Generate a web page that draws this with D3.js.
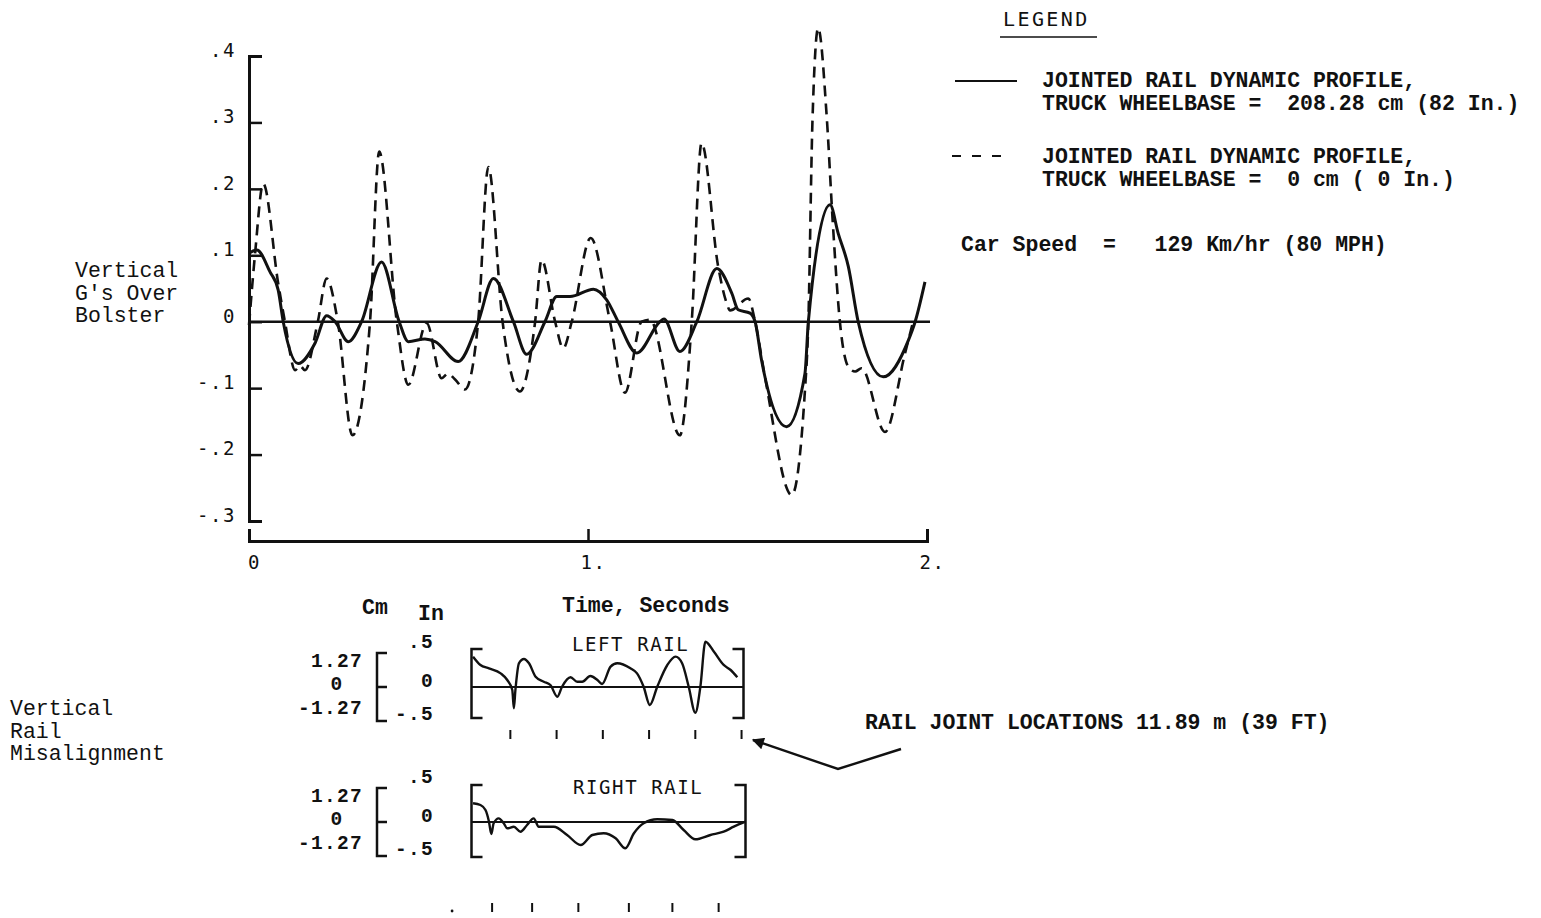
<!DOCTYPE html>
<html>
<head>
<meta charset="utf-8">
<script src="https://cdn.jsdelivr.net/npm/d3@7"></script>
<style>
  body { margin: 0; background: #fff; }
  svg { display: block; }
  .mono { font-family: "Liberation Mono", "Courier New", monospace; font-size: 21.5px; fill: #111; white-space: pre; }
  .mono-b { font-weight: bold; }
  .mono-s { font-size: 19.5px; letter-spacing: 1.3px; }
  .letter { font-family: "DejaVu Sans Mono", monospace; font-size: 19px; fill: #111; letter-spacing: 1.6px; white-space: pre; }
  .letter-l { font-size: 20px; letter-spacing: 2.4px; }
</style>
</head>
<body>
<svg id="chart" width="1541" height="918"></svg>
<script>
// Vertical acceleration over the bolster, 208.28 cm truck wheelbase (time s, g)
const timeSolid = [0, 0.023, 0.062, 0.086, 0.101, 0.145, 0.195, 0.229, 0.254, 0.293, 0.332, 0.391, 0.443, 0.470, 0.519, 0.549, 0.617, 0.676, 0.721, 0.780, 0.819, 0.873, 0.908, 0.947, 1.016, 1.055, 1.089, 1.144, 1.212, 1.224, 1.271, 1.321, 1.380, 1.424, 1.443, 1.478, 1.493, 1.512, 1.586, 1.640, 1.650, 1.714, 1.738, 1.768, 1.797, 1.871, 1.945, 1.965, 1.994];
const gSolid    = [0.103, 0.108, 0.075, 0.048, 0, -0.063, -0.032, 0.009, 0, -0.030, 0, 0.090, 0, -0.030, -0.026, -0.030, -0.060, 0, 0.065, 0, -0.049, 0, 0.038, 0.038, 0.049, 0.033, 0, -0.047, 0, 0.004, -0.045, 0, 0.080, 0.043, 0.018, 0.013, 0, -0.058, -0.158, -0.078, 0, 0.176, 0.133, 0.083, 0, -0.083, -0.028, 0, 0.060];

// Same profile, 0 cm truck wheelbase
const timeDashed = [0, 0.018, 0.042, 0.086, 0.106, 0.136, 0.150, 0.165, 0.203, 0.229, 0.262, 0.305, 0.357, 0.384, 0.436, 0.470, 0.524, 0.568, 0.587, 0.608, 0.637, 0.676, 0.706, 0.748, 0.799, 0.844, 0.863, 0.903, 0.927, 0.952, 1.008, 1.065, 1.109, 1.158, 1.183, 1.271, 1.306, 1.335, 1.384, 1.409, 1.419, 1.473, 1.493, 1.522, 1.601, 1.640, 1.650, 1.662, 1.679, 1.704, 1.722, 1.743, 1.768, 1.788, 1.807, 1.876, 1.935, 1.959];
const gDashed    = [-0.005, 0.103, 0.208, 0.058, 0, -0.073, -0.066, -0.073, 0, 0.065, 0, -0.171, 0, 0.256, 0, -0.095, -0.002, -0.085, -0.078, -0.087, -0.102, 0, 0.233, 0, -0.105, 0, 0.093, 0, -0.040, 0, 0.126, 0, -0.107, 0, 0.003, -0.171, 0, 0.269, 0.083, 0.028, 0.017, 0.035, 0, -0.083, -0.261, -0.103, 0, 0.300, 0.442, 0.310, 0.150, 0, -0.068, -0.075, -0.070, -0.166, -0.048, 0];

const gTicks = [0.4, 0.3, 0.2, 0.1, 0, -0.1, -0.2, -0.3];
const gTickLabels = [".4", ".3", ".2", ".1", "0", "-.1", "-.2", "-.3"];
const timeTicks = [0, 1, 2];
const timeTickLabels = ["0", "1.", "2."];

// Vertical rail misalignment: distance along track (m) and offset (in)
const leftRailDist = [0.4, 2.3, 4.5, 7.5, 9.2, 10.5, 10.9, 11.3, 12.2, 13.5, 14.8, 16.5, 18.6, 20.3, 22.1, 23.3, 25.5, 27.2, 28.5, 30.6, 32.4, 33.6, 35.8, 37.5, 40.9, 42.6, 44.3, 45.9, 47.8, 50.4, 52.5, 54.2, 55.9, 57.6, 58.9, 60.2, 62.4, 64.9, 66.7, 68.4];
const leftRailIn   = [0.446, 0.324, 0.275, 0.201, 0.103, -0.044, -0.313, -0.044, 0.349, 0.412, 0.349, 0.151, 0.078, 0.029, -0.143, 0.004, 0.143, 0.078, 0.078, 0.162, 0.103, 0.044, 0.299, 0.349, 0.275, 0.201, 0.004, -0.265, 0.004, 0.324, 0.446, 0.349, 0.004, -0.378, 0.004, 0.666, 0.519, 0.324, 0.250, 0.143];
const rightRailDist = [0.4, 2.3, 3.6, 4.5, 5.1, 5.7, 7.0, 8.3, 9.2, 10.9, 12.6, 14.3, 16.0, 17.3, 21.2, 24.6, 28.1, 31.1, 34.0, 37.1, 39.6, 41.8, 44.3, 47.8, 51.7, 54.6, 57.6, 61.5, 64.9, 67.5, 70.5];
const rightRailIn   = [0.275, 0.250, 0.176, 0.004, -0.176, -0.019, 0.054, -0.019, -0.093, -0.069, -0.143, -0.044, 0.054, -0.069, -0.069, -0.191, -0.338, -0.191, -0.166, -0.240, -0.387, -0.166, -0.019, 0.040, 0.029, -0.118, -0.254, -0.191, -0.143, -0.069, 0.004];
const leftJoints = [10.0, 21.9, 33.8, 45.7, 57.6, 69.5];
const rightJoints = [5.3, 15.6, 27.5, 40.5, 51.7, 63.6];
const rightJointDot = [-5.0];
const scaleIn = [0.5, 0, -0.5];
const scaleInLabels = [".5", "0", "-.5"];
const scaleCmLabels = ["1.27", "0", "-1.27"];

const svg = d3.select("#chart");
const ink = "#111";

// ---------- main acceleration chart ----------
const x = d3.scaleLinear().domain([0, 2]).range([249, 927]);
const y = d3.scaleLinear().domain([-0.3, 0.4]).range([521, 56]);

const yAxis = svg.append("g")
  .attr("transform", `translate(${x(0)},0)`)
  .call(d3.axisLeft(y)
    .tickValues(gTicks)
    .tickFormat((d, i) => gTickLabels[i])
    .tickSize(-13)
    .tickSizeOuter(-13)
    .tickPadding(13));
yAxis.attr("font-family", null).attr("font-size", null);
yAxis.select(".domain").attr("stroke", ink).attr("stroke-width", 3);
yAxis.selectAll(".tick line").attr("stroke", ink).attr("stroke-width", 2.5);
yAxis.selectAll(".tick text").attr("class", "letter").attr("dy", "0.02em");

const xAxis = svg.append("g")
  .attr("transform", "translate(0,541)")
  .call(d3.axisBottom(x)
    .tickValues(timeTicks)
    .tickFormat((d, i) => timeTickLabels[i])
    .tickSize(-12)
    .tickSizeOuter(-12)
    .tickPadding(15));
xAxis.attr("font-family", null).attr("font-size", null);
xAxis.select(".domain").attr("stroke", ink).attr("stroke-width", 3);
xAxis.selectAll(".tick line").attr("stroke", ink).attr("stroke-width", 2.5);
xAxis.selectAll(".tick text").attr("class", "letter").attr("dx", 5);

// zero reference line
svg.append("line")
  .attr("x1", x(0)).attr("x2", x(2) + 3)
  .attr("y1", y(0)).attr("y2", y(0))
  .attr("stroke", ink).attr("stroke-width", 2.5);

const gLine = d3.line()
  .x(d => x(d[0]))
  .y(d => y(d[1]))
  .curve(d3.curveMonotoneX);

svg.append("path")
  .datum(d3.zip(timeDashed, gDashed))
  .attr("d", gLine)
  .attr("fill", "none").attr("stroke", ink)
  .attr("stroke-width", 2.6)
  .attr("stroke-dasharray", "11,7");

svg.append("path")
  .datum(d3.zip(timeSolid, gSolid))
  .attr("d", gLine)
  .attr("fill", "none").attr("stroke", ink)
  .attr("stroke-width", 3);

// axis titles
const yTitle = ["Vertical", "G's Over", "Bolster"];
svg.append("g").selectAll("text").data(yTitle).join("text")
  .attr("class", "mono")
  .attr("x", 75).attr("y", (d, i) => 277 + i * 22.5)
  .text(d => d);

svg.append("text").attr("class", "mono mono-b")
  .attr("x", 562).attr("y", 612).text("Time, Seconds");

// ---------- legend ----------
svg.append("text").attr("class", "letter letter-l")
  .attr("x", 1003).attr("y", 26).text("LEGEND");
svg.append("line").attr("x1", 1000).attr("x2", 1097).attr("y1", 37).attr("y2", 37)
  .attr("stroke", ink).attr("stroke-width", 1.5);

svg.append("line").attr("x1", 955).attr("x2", 1017).attr("y1", 81).attr("y2", 81)
  .attr("stroke", ink).attr("stroke-width", 2.2);
svg.append("line").attr("x1", 952).attr("x2", 1006).attr("y1", 156).attr("y2", 156)
  .attr("stroke", ink).attr("stroke-width", 2.2).attr("stroke-dasharray", "9,11");

const legendLines = [
  { y: 87, t: "JOINTED RAIL DYNAMIC PROFILE," },
  { y: 110, t: "TRUCK WHEELBASE =  208.28 cm (82 In.)" },
  { y: 163, t: "JOINTED RAIL DYNAMIC PROFILE," },
  { y: 186, t: "TRUCK WHEELBASE =  0 cm ( 0 In.)" }
];
svg.append("g").selectAll("text").data(legendLines).join("text")
  .attr("class", "mono mono-b")
  .attr("x", 1042).attr("y", d => d.y).text(d => d.t);

svg.append("text").attr("class", "mono mono-b")
  .attr("x", 961).attr("y", 251).text("Car Speed  =   129 Km/hr (80 MPH)");

// ---------- rail misalignment panels ----------
const rx = d3.scaleLinear().domain([0, 70]).range([471.5, 743.5]);
const railLine = ys => d3.line().x(d => rx(d[0])).y(d => ys(d[1])).curve(d3.curveMonotoneX);

svg.append("text").attr("class", "mono mono-b").attr("x", 362).attr("y", 614).text("Cm");
svg.append("text").attr("class", "mono mono-b").attr("x", 418).attr("y", 620).text("In");

const railTitle = ["Vertical", "Rail", "Misalignment"];
svg.append("g").selectAll("text").data(railTitle).join("text")
  .attr("class", "mono")
  .attr("x", 10).attr("y", (d, i) => 715 + i * 22.5)
  .text(d => d);

function drawRail(opts) {
  const ys = d3.scaleLinear().domain([-0.5, 0.5]).range([opts.zero + 34, opts.zero - 34]);
  const g = svg.append("g");

  // inch / cm scale bracket
  const bx = 377, bs = 10;
  g.append("path")
    .attr("d", `M${bx + bs},${ys(0.5)}H${bx}V${ys(-0.5)}H${bx + bs}M${bx},${ys(0)}H${bx + bs}`)
    .attr("fill", "none").attr("stroke", ink).attr("stroke-width", 2.5);
  const inOffset = [-44, -5, 28];
  const cmOffset = [-25, -2, 22];
  g.selectAll(".inlab").data(scaleIn).join("text")
    .attr("class", "mono mono-b mono-s")
    .attr("text-anchor", "end")
    .attr("dominant-baseline", "central")
    .attr("x", 434)
    .attr("y", (d, i) => ys(0) + inOffset[i])
    .text((d, i) => scaleInLabels[i]);
  g.selectAll(".cmlab").data(scaleCmLabels).join("text")
    .attr("class", "mono mono-b mono-s")
    .attr("text-anchor", (d, i) => i === 1 ? "middle" : "end")
    .attr("dominant-baseline", "central")
    .attr("x", (d, i) => i === 1 ? 337 : 363)
    .attr("y", (d, i) => ys(0) + cmOffset[i])
    .text(d => d);

  // panel frame
  const x0 = rx(0), x1 = opts.right, s = 11;
  const top = ys(0) - opts.up, bot = ys(0) + opts.down;
  g.append("path")
    .attr("d", `M${x0 + s},${top}H${x0}V${bot}H${x0 + s}M${x1 - s},${top}H${x1}V${bot}H${x1 - s}`)
    .attr("fill", "none").attr("stroke", ink).attr("stroke-width", 2.5);
  g.append("line").attr("x1", x0).attr("x2", x1).attr("y1", ys(0)).attr("y2", ys(0))
    .attr("stroke", ink).attr("stroke-width", 1.8);

  g.append("text").attr("class", "letter").attr("x", opts.titleX).attr("y", opts.titleY).text(opts.title);

  g.append("path")
    .datum(d3.zip(opts.dist, opts.vals))
    .attr("d", railLine(ys))
    .attr("fill", "none").attr("stroke", ink).attr("stroke-width", 2.4);

  // rail joint marks
  g.selectAll(".joint").data(opts.joints).join("line")
    .attr("x1", d => rx(d)).attr("x2", d => rx(d))
    .attr("y1", opts.jointY).attr("y2", opts.jointY + 9)
    .attr("stroke", ink).attr("stroke-width", 2);
  return ys;
}

drawRail({ zero: 687, up: 38, down: 31, right: 743.5, title: "LEFT RAIL", titleX: 572, titleY: 651,
  dist: leftRailDist, vals: leftRailIn, joints: leftJoints, jointY: 730 });
drawRail({ zero: 822, up: 37, down: 35, right: 745.5, title: "RIGHT RAIL", titleX: 573, titleY: 794,
  dist: rightRailDist, vals: rightRailIn, joints: rightJoints, jointY: 903 });

svg.selectAll(".jdot").data(rightJointDot).join("circle")
  .attr("cx", d => rx(d)).attr("cy", 911).attr("r", 1.4).attr("fill", ink);

// rail joint annotation with arrow
svg.append("defs").append("marker")
  .attr("id", "arrowhead")
  .attr("viewBox", "0 0 10 10")
  .attr("refX", 9).attr("refY", 5)
  .attr("markerWidth", 7).attr("markerHeight", 5)
  .attr("markerUnits", "strokeWidth")
  .attr("orient", "auto")
  .append("path").attr("d", "M0,0L10,5L0,10z").attr("fill", ink);

svg.append("path")
  .attr("d", "M901,749L838,769L753,740")
  .attr("fill", "none").attr("stroke", ink).attr("stroke-width", 2.4)
  .attr("marker-end", "url(#arrowhead)");

svg.append("text").attr("class", "mono mono-b")
  .attr("x", 865).attr("y", 729).text("RAIL JOINT LOCATIONS 11.89 m (39 FT)");
</script>
</body>
</html>
